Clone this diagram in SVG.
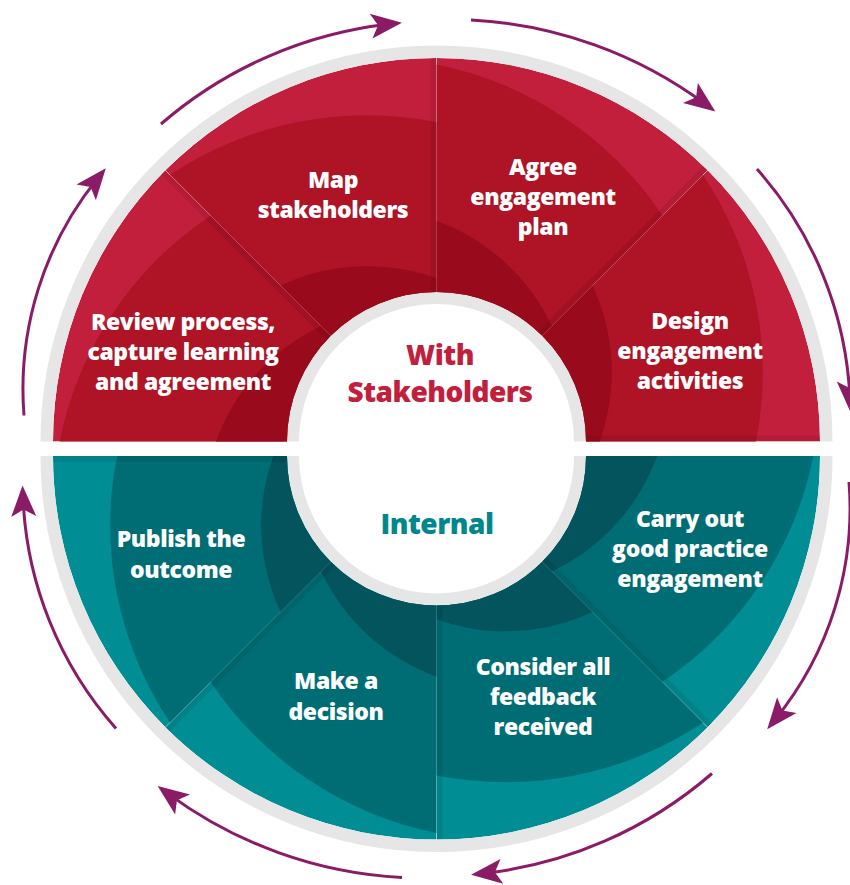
<svg xmlns="http://www.w3.org/2000/svg" xmlns:xlink="http://www.w3.org/1999/xlink" width="850" height="885" viewBox="0 0 850 885">
  <style>
    .rl { fill: #c21f3c; }
    .rm { fill: #ae1326; }
    .rd { fill: #990b1c; }
    .tl { fill: #008e94; }
    .tm { fill: #006d75; }
    .td { fill: #03545d; }
    .edge { stroke: #000000; stroke-opacity: 0.08; stroke-width: 12; }
    .seam { stroke: #ffffff; stroke-opacity: 0.12; stroke-width: 1; }
    .ring { fill: none; stroke: #e6e6e6; }
    .label { font-family: "Open Sans", "Noto Sans", "DejaVu Sans", sans-serif; font-weight: 800; font-size: 23px; letter-spacing: -0.4px; fill: #ffffff; text-anchor: middle; }
    .hub { font-family: "Open Sans", "Noto Sans", "DejaVu Sans", sans-serif; font-weight: 800; font-size: 28px; letter-spacing: -0.5px; text-anchor: middle; }
    .flow { fill: none; stroke: #8a1b66; stroke-width: 3; marker-end: url(#head); }
  </style>
  <defs>
    <marker id="head" markerUnits="userSpaceOnUse" orient="auto" refX="0" refY="0" markerWidth="40" markerHeight="40" overflow="visible">
      <path d="M12,0 L-19,-12.5 L-12,0 L-19,12.5 Z" fill="#8a1b66"/>
    </marker>
    <!-- sector outlines: upper half centred on (436.5,441.5), lower half on (436.5,456) -->
    <path id="s-design" d="M820,441.5 A383.5,383.5 0 0 0 707.68,170.32 L542.21,335.79 A149.5,149.5 0 0 1 586,441.5 Z"/>
    <path id="s-agree" d="M707.68,170.32 A383.5,383.5 0 0 0 436.5,58 L436.5,292 A149.5,149.5 0 0 1 542.21,335.79 Z"/>
    <path id="s-map" d="M436.5,58 A383.5,383.5 0 0 0 165.32,170.32 L330.79,335.79 A149.5,149.5 0 0 1 436.5,292 Z"/>
    <path id="s-review" d="M165.32,170.32 A383.5,383.5 0 0 0 53,441.5 L287,441.5 A149.5,149.5 0 0 1 330.79,335.79 Z"/>
    <path id="s-publish" d="M53,456 A383.5,383.5 0 0 0 165.32,727.18 L330.79,561.71 A149.5,149.5 0 0 1 287,456 Z"/>
    <path id="s-decide" d="M165.32,727.18 A383.5,383.5 0 0 0 436.5,839.5 L436.5,605.5 A149.5,149.5 0 0 1 330.79,561.71 Z"/>
    <path id="s-consider" d="M436.5,839.5 A383.5,383.5 0 0 0 707.68,727.18 L542.21,561.71 A149.5,149.5 0 0 1 436.5,605.5 Z"/>
    <path id="s-carry" d="M707.68,727.18 A383.5,383.5 0 0 0 820,456 L586,456 A149.5,149.5 0 0 1 542.21,561.71 Z"/>
    <clipPath id="c-design"><use xlink:href="#s-design"/></clipPath>
    <clipPath id="c-agree"><use xlink:href="#s-agree"/></clipPath>
    <clipPath id="c-map"><use xlink:href="#s-map"/></clipPath>
    <clipPath id="c-review"><use xlink:href="#s-review"/></clipPath>
    <clipPath id="c-publish"><use xlink:href="#s-publish"/></clipPath>
    <clipPath id="c-decide"><use xlink:href="#s-decide"/></clipPath>
    <clipPath id="c-consider"><use xlink:href="#s-consider"/></clipPath>
    <clipPath id="c-carry"><use xlink:href="#s-carry"/></clipPath>
  </defs>

  <rect width="850" height="885" fill="#ffffff"/>

  <!-- grey rims -->
  <g id="rims">
    <path class="ring" stroke-width="12.5" d="M46.75,441.5 A389.75,389.75 0 0 1 826.25,441.5"/>
    <path class="ring" stroke-width="12" d="M293,441.5 A143.5,143.5 0 0 1 580,441.5"/>
    <path class="ring" stroke-width="12.5" d="M46.75,456 A389.75,389.75 0 0 0 826.25,456"/>
    <path class="ring" stroke-width="12" d="M293,456 A143.5,143.5 0 0 0 580,456"/>
  </g>

  <!-- With stakeholders -->
  <g id="node-review">
    <g clip-path="url(#c-review)">
      <use xlink:href="#s-review" class="rl"/>
      <circle class="rm" cx="407.8" cy="510.8" r="355"/>
      <circle class="rd" cx="407.8" cy="510.8" r="204"/>
      <line class="edge" x1="436.5" y1="441.5" x2="139.5" y2="144.5"/>
    </g>
    <text class="label" x="183" y="330">Review process,</text>
    <text class="label" x="183" y="360">capture learning</text>
    <text class="label" x="183" y="390">and agreement</text>
  </g>

  <g id="node-map">
    <g clip-path="url(#c-map)">
      <use xlink:href="#s-map" class="rl"/>
      <circle class="rm" cx="367.2" cy="470.2" r="355"/>
      <circle class="rd" cx="367.2" cy="470.2" r="204"/>
      <line class="edge" x1="436.5" y1="441.5" x2="436.5" y2="40"/>
    </g>
    <text class="label" x="333" y="188">Map</text>
    <text class="label" x="333" y="218">stakeholders</text>
  </g>

  <g id="node-agree">
    <g clip-path="url(#c-agree)">
      <use xlink:href="#s-agree" class="rl"/>
      <circle class="rm" cx="367.2" cy="412.8" r="355"/>
      <circle class="rd" cx="367.2" cy="412.8" r="204"/>
      <line class="edge" x1="436.5" y1="441.5" x2="733.5" y2="144.5"/>
    </g>
    <text class="label" x="543" y="175">Agree</text>
    <text class="label" x="543" y="205">engagement</text>
    <text class="label" x="543" y="235">plan</text>
  </g>

  <g id="node-design">
    <g clip-path="url(#c-design)">
      <use xlink:href="#s-design" class="rl"/>
      <circle class="rm" cx="407.8" cy="372.2" r="355"/>
      <circle class="rd" cx="407.8" cy="372.2" r="204"/>
      <line class="edge" x1="436.5" y1="441.5" x2="840" y2="441.5"/>
    </g>
    <text class="label" x="690" y="329">Design</text>
    <text class="label" x="690" y="359">engagement</text>
    <text class="label" x="690" y="389">activities</text>
  </g>

  <!-- Internal -->
  <g id="node-carry">
    <g clip-path="url(#c-carry)">
      <use xlink:href="#s-carry" class="tl"/>
      <circle class="tm" cx="465.2" cy="386.7" r="355"/>
      <circle class="td" cx="465.2" cy="386.7" r="204"/>
      <line class="edge" x1="436.5" y1="456" x2="733.5" y2="753"/>
    </g>
    <text class="label" x="690" y="527">Carry out</text>
    <text class="label" x="690" y="557">good practice</text>
    <text class="label" x="690" y="587">engagement</text>
  </g>

  <g id="node-consider">
    <g clip-path="url(#c-consider)">
      <use xlink:href="#s-consider" class="tl"/>
      <circle class="tm" cx="505.8" cy="427.3" r="355"/>
      <circle class="td" cx="505.8" cy="427.3" r="204"/>
      <line class="edge" x1="436.5" y1="456" x2="436.5" y2="876"/>
    </g>
    <text class="label" x="543" y="675">Consider all</text>
    <text class="label" x="543" y="705">feedback</text>
    <text class="label" x="543" y="735">received</text>
  </g>

  <g id="node-decide">
    <g clip-path="url(#c-decide)">
      <use xlink:href="#s-decide" class="tl"/>
      <circle class="tm" cx="505.8" cy="484.7" r="355"/>
      <circle class="td" cx="505.8" cy="484.7" r="204"/>
      <line class="edge" x1="436.5" y1="456" x2="139.5" y2="753"/>
    </g>
    <text class="label" x="336" y="689">Make a</text>
    <text class="label" x="336" y="720">decision</text>
  </g>

  <g id="node-publish">
    <g clip-path="url(#c-publish)">
      <use xlink:href="#s-publish" class="tl"/>
      <circle class="tm" cx="465.2" cy="525.3" r="355"/>
      <circle class="td" cx="465.2" cy="525.3" r="204"/>
      <line class="edge" x1="436.5" y1="456" x2="16" y2="456"/>
    </g>
    <text class="label" x="181" y="547">Publish the</text>
    <text class="label" x="181" y="578">outcome</text>
  </g>

  <!-- hairline seams between neighbouring sectors -->
  <g id="seams">
    <line class="seam" x1="542.21" y1="335.79" x2="707.68" y2="170.32"/>
    <line class="seam" x1="436.5" y1="292" x2="436.5" y2="58"/>
    <line class="seam" x1="330.79" y1="335.79" x2="165.32" y2="170.32"/>
    <line class="seam" x1="330.79" y1="561.71" x2="165.32" y2="727.18"/>
    <line class="seam" x1="436.5" y1="605.5" x2="436.5" y2="839.5"/>
    <line class="seam" x1="542.21" y1="561.71" x2="707.68" y2="727.18"/>
  </g>

  <!-- hub labels -->
  <g id="hub">
    <text class="hub" x="440" y="365" fill="#c1203d">With</text>
    <text class="hub" x="440" y="402" fill="#c1203d">Stakeholders</text>
    <text class="hub" x="437" y="534" fill="#00878d">Internal</text>
  </g>

  <!-- cycle arrows -->
  <g id="connectors">
    <path class="flow" d="M161,124 A420,420 0 0 1 390,24"/>
    <path class="flow" d="M471,20 A432,432 0 0 1 705.7,104.4"/>
    <path class="flow" d="M757,169 A370,370 0 0 1 850,400"/>
    <path class="flow" d="M849,482 A335,335 0 0 1 774.8,719.9"/>
    <path class="flow" d="M712,773.5 A420,420 0 0 1 483,873.5"/>
    <path class="flow" d="M402,877.5 A432,432 0 0 1 167.3,793.1"/>
    <path class="flow" d="M116,728.5 A370,370 0 0 1 23,497.5"/>
    <path class="flow" d="M24,415.5 A335,335 0 0 1 98.2,177.6"/>
  </g>
</svg>
